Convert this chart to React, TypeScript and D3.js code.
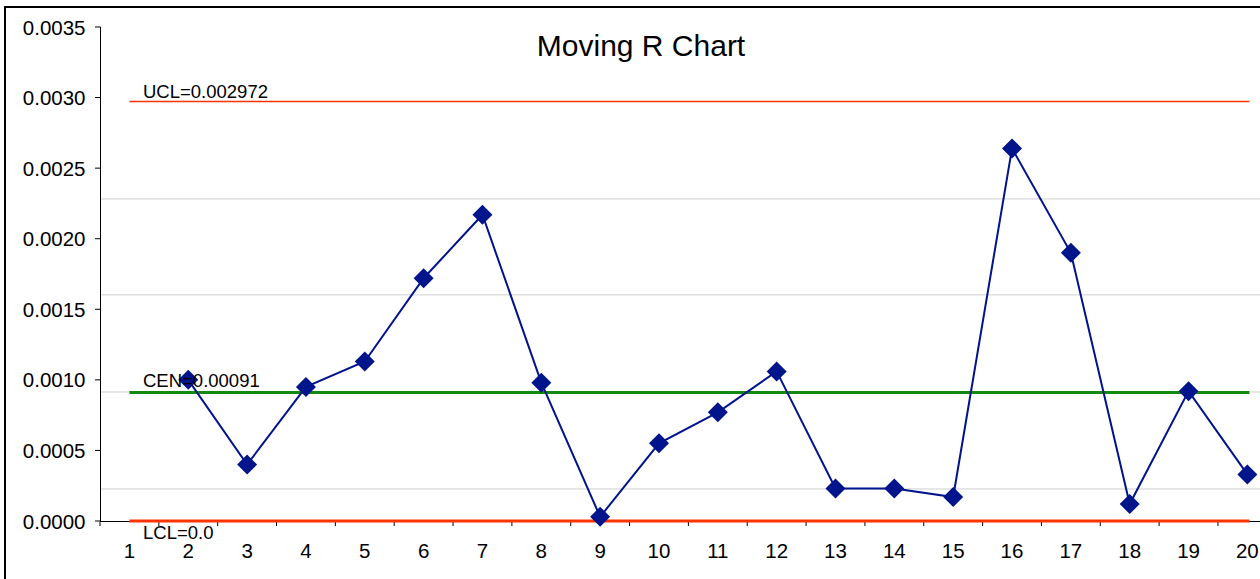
import React from "react";
import * as d3 from "d3";

const categories: number[] = [1, 2, 3, 4, 5, 6, 7, 8, 9, 10, 11, 12, 13, 14, 15, 16, 17, 18, 19, 20];
const pointCats: number[] = [2, 3, 4, 5, 6, 7, 8, 9, 10, 11, 12, 13, 14, 15, 16, 17, 18, 19, 20];
const movingR: number[] = [
  0.00100, 0.00040, 0.00095, 0.00113, 0.00172, 0.00217, 0.00098, 0.00003, 0.00055, 0.00077,
  0.00106, 0.00023, 0.00023, 0.00017, 0.00264, 0.00190, 0.00012, 0.00092, 0.00033,
];
const yTicks: number[] = [0, 0.0005, 0.001, 0.0015, 0.002, 0.0025, 0.003, 0.0035];
const gridValues: number[] = [0.000227, 0.000914, 0.001602, 0.002282];
const UCL = 0.002972;
const CEN = 0.00091;
const LCL = 0.0;
const controlLabels: string[] = ["UCL=0.002972", "CEN=0.00091", "LCL=0.0"];
const title = "Moving R Chart";

const W = 1260;
const H = 579;
const FONT = "'Liberation Sans', Arial, sans-serif";

export default function App() {
  const x = d3.scaleBand<number>().domain(categories).range([100, 1276.8]).padding(0);
  const bw = x.bandwidth();
  const cx = (c: number) => (x(c) as number) + bw / 2;
  const y = d3.scaleLinear().domain([0, 0.0035]).range([521, 27]);

  const line = d3
    .line<number>()
    .x((_, i) => cx(pointCats[i]))
    .y((d) => y(d));

  const diamond = d3.symbol().type(d3.symbolSquare).size(200)();

  const x0 = cx(categories[0]);
  const x1 = cx(categories[categories.length - 1]) + 2;
  const tickBounds = d3.range(categories.length + 1).map((i) => 100 + i * bw);

  return (
    <svg
      width={W}
      height={H}
      style={{ position: "absolute", left: 0, top: 0, background: "#fff" }}
      fontFamily={FONT}
    >
      <rect x={0} y={0} width={W} height={H} fill="#fff" />
      <rect x={5} y={7} width={1400} height={700} fill="none" stroke="#000" strokeWidth={2} />

      {gridValues.map((g, i) => (
        <line key={"g" + i} x1={100} x2={W} y1={y(g)} y2={y(g)} stroke="#cfcfcf" strokeWidth={1} />
      ))}

      {/* y axis */}
      <line x1={100.5} x2={100.5} y1={y(0.0035)} y2={y(0)} stroke="#000" strokeWidth={1} />
      {yTicks.map((t, i) => (
        <g key={"yt" + i}>
          <line x1={95} x2={100.5} y1={y(t)} y2={y(t)} stroke="#000" strokeWidth={1} />
          <text x={85.5} y={y(t) + 7.5} fontSize={20.5} textAnchor="end" fill="#000">
            {t.toFixed(4)}
          </text>
        </g>
      ))}

      {/* x axis */}
      <line x1={100} x2={W} y1={521.5} y2={521.5} stroke="#000" strokeWidth={1} />
      {tickBounds.map((b, i) => (
        <line key={"xt" + i} x1={b} x2={b} y1={521.5} y2={526} stroke="#000" strokeWidth={1} />
      ))}
      {categories.map((c) => (
        <text key={"xl" + c} x={cx(c)} y={557.5} fontSize={20.5} textAnchor="middle" fill="#000">
          {c}
        </text>
      ))}

      {/* control lines */}
      <line x1={x0} x2={x1} y1={y(UCL)} y2={y(UCL)} stroke="#ff3300" strokeWidth={1.6} />
      <line x1={x0} x2={x1} y1={y(CEN)} y2={y(CEN)} stroke="#128a12" strokeWidth={3} />
      <line x1={x0} x2={x1} y1={y(LCL)} y2={y(LCL)} stroke="#ff3300" strokeWidth={3} />

      {/* series */}
      <path d={line(movingR) || ""} fill="none" stroke="#00148c" strokeWidth={2} />
      {movingR.map((v, i) => (
        <path
          key={"m" + i}
          d={diamond || ""}
          transform={`translate(${cx(pointCats[i])},${y(v)}) rotate(45)`}
          fill="#00148c"
        />
      ))}

      {/* labels */}
      <text x={143} y={y(UCL) - 4} fontSize={18.5} fill="#000">{controlLabels[0]}</text>
      <text x={143} y={y(CEN) - 6} fontSize={18.5} fill="#000">{controlLabels[1]}</text>
      <text x={143} y={y(LCL) + 18} fontSize={18.5} fill="#000">{controlLabels[2]}</text>

      <text x={641} y={56} fontSize={30} textAnchor="middle" fill="#000">{title}</text>
    </svg>
  );
}
